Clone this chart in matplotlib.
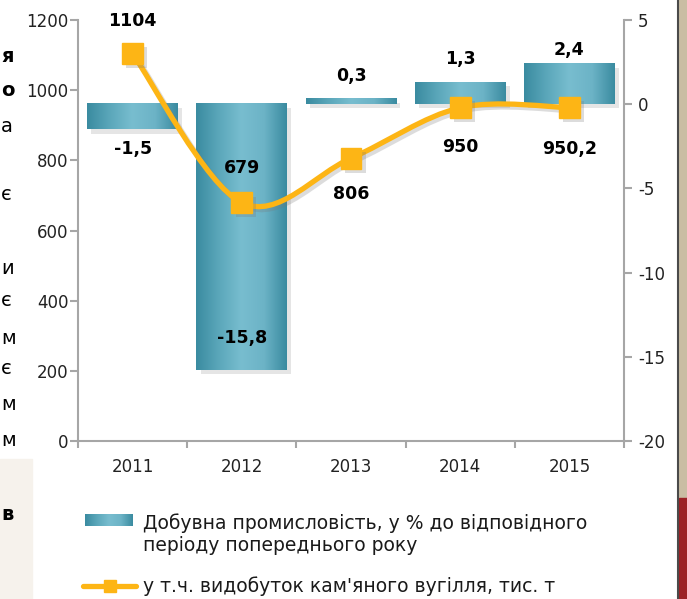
import numpy as np
import matplotlib.pyplot as plt
from matplotlib.path import Path
from matplotlib.patches import PathPatch, Rectangle
from matplotlib.colors import LinearSegmentedColormap
from matplotlib.lines import Line2D
from matplotlib import patheffects as pe
from matplotlib import transforms as mtransforms

# ---- data ----
years = ['2011', '2012', '2013', '2014', '2015']
mining_pct = [-1.5, -15.8, 0.3, 1.3, 2.4]
coal_kt = [1104, 679, 806, 950, 950.2]
mining_labels = ['-1,5', '-15,8', '0,3', '1,3', '2,4']
coal_labels = ['1104', '679', '806', '950', '950,2']
bar_name = 'Добувна промисловість, у % до відповідного\nперіоду попереднього року'
line_name = 'у т.ч. видобуток кам\'яного вугілля, тис. т'

plt.rcParams['font.family'] = ['DejaVu Sans']
plt.rcParams['axes.unicode_minus'] = False

W, H = 687, 599
teal = LinearSegmentedColormap.from_list(
    'teal', ['#3A8BA0', '#5BA7BA', '#78BDCF', '#6CB3C6', '#3A8BA0'])
gold = '#FDB515'
grey = '#A6A6A6'
txt = '#222222'

fig = plt.figure(figsize=(W / 100, H / 100), dpi=100)
ax = fig.add_axes([78 / W, 1 - 441 / H, 546 / W, 421 / H])
ax2 = ax.twinx()

x = np.arange(len(years))
grad = np.linspace(0, 1, 256).reshape(1, -1)

# bars (right axis, %)
bw = 0.83
bars = ax.bar(x, mining_pct, width=bw, color='#3A8BA0', zorder=2)
for b in bars:
    b.set_path_effects([pe.SimplePatchShadow(offset=(3, -3), shadow_rgbFace='#999999', alpha=0.25),
                        pe.Normal()])
    x0, y0 = b.get_x(), b.get_y()
    ax.imshow(grad, extent=(x0, x0 + b.get_width(), y0, y0 + b.get_height()),
              aspect='auto', cmap=teal, zorder=2.5, interpolation='bicubic')

ax.set_xlim(-0.5, 4.5)
ax.set_ylim(-20, 5)
ax.set_yticks(range(-20, 6, 5))
ax.yaxis.tick_right()
ax.set_xticks(x, years)
ax.set_xticks(np.arange(-0.5, 5, 1), minor=True)
ax.tick_params(axis='x', which='major', length=0, pad=12, labelsize=12, labelcolor=txt)
ax.tick_params(axis='x', which='minor', length=5, color=grey, width=1.5)
ax.tick_params(axis='y', length=6, color=grey, width=1.5, labelsize=12, labelcolor=txt, pad=4)
ax.spines['top'].set_visible(False)
for s in ['left', 'right', 'bottom']:
    ax.spines[s].set_color(grey)
    ax.spines[s].set_linewidth(1.5)

# line (left axis, thousand tonnes) - smoothed with bezier segments
ax2.set_ylim(0, 1200)
ax2.set_yticks(range(0, 1201, 200))
ax2.yaxis.tick_left()
ax2.tick_params(axis='y', length=6, color=grey, width=1.5, labelsize=12, labelcolor=txt, pad=1)
for s in ax2.spines.values():
    s.set_visible(False)

pts = np.column_stack([x, coal_kt]).astype(float)
ext = np.vstack([pts[0], pts, pts[-1]])
verts = [tuple(pts[0])]
codes = [Path.MOVETO]
for i in range(len(pts) - 1):
    p0, p1, p2, p3 = ext[i], ext[i + 1], ext[i + 2], ext[i + 3]
    verts += [tuple(p1 + (p2 - p0) / 6), tuple(p2 - (p3 - p1) / 6), tuple(p2)]
    codes += [Path.CURVE4] * 3
curve = Path(verts, codes)
shadow_tr = mtransforms.offset_copy(ax2.transData, fig=fig, x=3, y=-3, units='dots')
ax2.add_patch(PathPatch(curve, fill=False, edgecolor='#777777', alpha=0.25, lw=3.8,
                        transform=shadow_tr, zorder=3))
ax2.add_patch(PathPatch(curve, fill=False, edgecolor=gold, lw=3.8, capstyle='round', zorder=4))
ax2.plot(x, coal_kt, linestyle='none', marker='s', ms=15, color=gold, zorder=5,
         path_effects=[pe.SimplePatchShadow(offset=(3, -3), shadow_rgbFace='#777777', alpha=0.25),
                       pe.Normal()])

# data labels
bar_offsets = [-20, 32, 23, 23, 14]
for xi, v, lab, off in zip(x, mining_pct, mining_labels, bar_offsets):
    ax.annotate(lab, (xi, v), xytext=(0, off), textcoords='offset pixels',
                ha='center', va='center', fontsize=12.5, fontweight='bold', zorder=6)
line_offsets = [33, 35, -36, -39, -41]
for xi, v, lab, off in zip(x, coal_kt, coal_labels, line_offsets):
    ax2.annotate(lab, (xi, v), xytext=(0, off), textcoords='offset pixels',
                 ha='center', va='center', fontsize=12.5, fontweight='bold', zorder=6)

# legend
kax = fig.add_axes([85 / W, 1 - 526 / H, 48 / W, 12 / H])
kax.imshow(grad, aspect='auto', cmap=teal, interpolation='bicubic')
kax.axis('off')
fig.text(143 / W, 1 - 534 / H, bar_name, fontsize=13.5, va='center', ha='left',
         linespacing=1.2, color='#1a1a1a')
fig.add_artist(Line2D([83 / W, 136 / W], [1 - 586 / H] * 2, color=gold, lw=3.8,
                      solid_capstyle='round', transform=fig.transFigure))
fig.add_artist(Line2D([110 / W], [1 - 586 / H], marker='s', ms=8, color=gold,
                      transform=fig.transFigure))
fig.text(143 / W, 1 - 586 / H, line_name, fontsize=13.5, va='center', ha='left', color='#1a1a1a')

# slide surroundings (cropped)
fig.add_artist(Rectangle((0, 0), 32 / W, 140 / H, transform=fig.transFigure,
                         color='#F6F2EC', zorder=0))
side = [('я', 57, 'bold'), ('о', 90, 'bold'), ('а', 126, 'normal'), ('є', 195, 'normal'),
        ('и', 268, 'normal'), ('є', 300, 'normal'), ('м', 338, 'normal'), ('є', 368, 'normal'),
        ('м', 405, 'normal'), ('м', 440, 'normal'), ('в', 515, 'bold')]
for ch, yy, wt in side:
    fig.text(1 / W, 1 - yy / H, ch, fontsize=14, fontweight=wt, ha='left', va='center')
fig.add_artist(Rectangle((679 / W, 0), 8 / W, 1, transform=fig.transFigure,
                         color='#C9BDA3', zorder=0))
fig.add_artist(Rectangle((679 / W, 0), 8 / W, 101 / H, transform=fig.transFigure,
                         color='#9B2226', zorder=0))
fig.add_artist(Line2D([678 / W] * 2, [0, 1], color='#4a4a4a', lw=1.5,
                      transform=fig.transFigure))

fig.savefig('out.png', dpi=100)
